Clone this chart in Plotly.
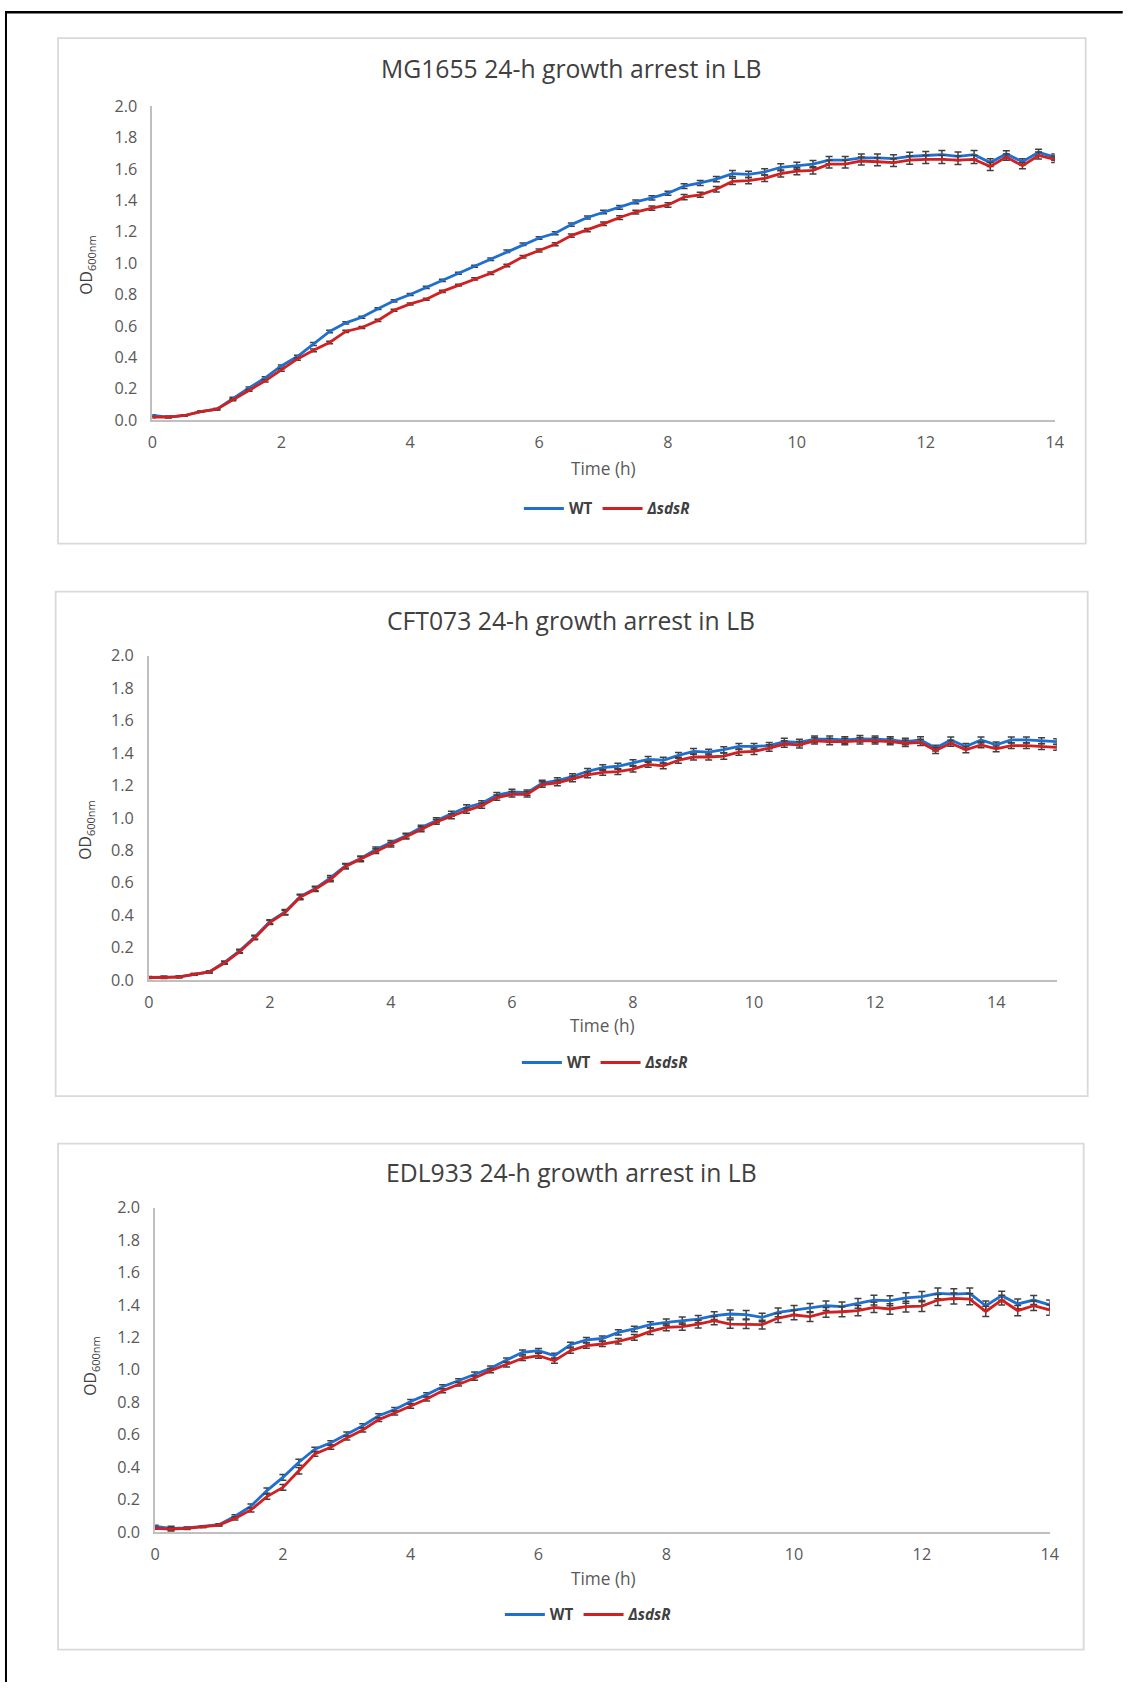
import plotly.graph_objects as go

# ---------------- data ----------------
TIME_14H = [0, 0.25, 0.5, 0.75, 1, 1.25, 1.5, 1.75, 2, 2.25, 2.5, 2.75, 3,
            3.25, 3.5, 3.75, 4, 4.25, 4.5, 4.75, 5, 5.25, 5.5, 5.75, 6,
            6.25, 6.5, 6.75, 7, 7.25, 7.5, 7.75, 8, 8.25, 8.5, 8.75, 9,
            9.25, 9.5, 9.75, 10, 10.25, 10.5, 10.75, 11, 11.25, 11.5, 11.75, 12,
            12.25, 12.5, 12.75, 13, 13.25, 13.5, 13.75, 14]
TIME_15H = TIME_14H + [14.25, 14.5, 14.75, 15]

MG_WT = [0.03, 0.02, 0.03, 0.055, 0.07,
         0.14, 0.205, 0.27, 0.345, 0.405, 0.485, 0.565, 0.62,
         0.655, 0.71, 0.76, 0.80, 0.845, 0.89, 0.935, 0.98, 1.025, 1.075, 1.12, 1.16,
         1.19, 1.245, 1.29, 1.325, 1.355, 1.39, 1.415, 1.445,
         1.49, 1.51, 1.535, 1.57,
         1.565, 1.58, 1.61, 1.62, 1.63, 1.655, 1.655, 1.67, 1.67, 1.665, 1.68, 1.685,
         1.69, 1.68, 1.69, 1.64, 1.695, 1.645, 1.705, 1.675]
MG_WT_ERR = [0.005, 0.005, 0.004, 0.004, 0.005,
             0.006, 0.006, 0.007, 0.007, 0.008, 0.010, 0.008, 0.007,
             0.006, 0.006, 0.007, 0.006, 0.007, 0.007, 0.006, 0.007, 0.008, 0.008, 0.008, 0.008,
             0.009, 0.010, 0.010, 0.011, 0.012, 0.012, 0.013, 0.013,
             0.015, 0.016, 0.017, 0.020,
             0.020, 0.020, 0.022, 0.022, 0.023, 0.023, 0.024, 0.025, 0.025, 0.025, 0.026, 0.026,
             0.026, 0.027, 0.027, 0.025, 0.020, 0.020, 0.020, 0.020]
MG_DS = [0.02, 0.02, 0.03, 0.055, 0.07,
         0.13, 0.19, 0.25, 0.32, 0.39, 0.445, 0.495, 0.565,
         0.59, 0.635, 0.70, 0.74, 0.77, 0.82, 0.86, 0.90, 0.935, 0.985, 1.04, 1.08,
         1.12, 1.175, 1.21, 1.25, 1.29, 1.325, 1.35, 1.37,
         1.42, 1.435, 1.47, 1.52,
         1.525, 1.54, 1.57, 1.585, 1.59, 1.63, 1.63, 1.65, 1.645, 1.64, 1.655, 1.66,
         1.66, 1.655, 1.66, 1.615, 1.675, 1.62, 1.685, 1.66]
MG_DS_ERR = [0.004, 0.005, 0.004, 0.004, 0.005,
             0.006, 0.006, 0.007, 0.008, 0.008, 0.009, 0.008, 0.007,
             0.006, 0.007, 0.007, 0.006, 0.007, 0.007, 0.006, 0.007, 0.008, 0.008, 0.008, 0.009,
             0.010, 0.010, 0.011, 0.011, 0.012, 0.012, 0.013, 0.014,
             0.016, 0.016, 0.018, 0.020,
             0.020, 0.021, 0.022, 0.022, 0.023, 0.024, 0.024, 0.025, 0.025, 0.025, 0.026, 0.026,
             0.026, 0.027, 0.026, 0.025, 0.020, 0.020, 0.022, 0.020]

CFT_WT = [0.017, 0.02, 0.02, 0.035, 0.05,
          0.11, 0.18, 0.265, 0.36, 0.42, 0.515, 0.565, 0.63,
          0.705, 0.75, 0.805, 0.845, 0.89, 0.94, 0.985, 1.025, 1.065, 1.09, 1.14, 1.16,
          1.155, 1.215, 1.23, 1.255, 1.287, 1.31, 1.318, 1.34,
          1.36, 1.355, 1.385, 1.41,
          1.405, 1.42, 1.44, 1.44, 1.445, 1.47, 1.465, 1.485, 1.485, 1.48, 1.487, 1.485,
          1.48, 1.47, 1.48, 1.43, 1.48, 1.44, 1.48, 1.45,
          1.48, 1.48, 1.475, 1.47]
CFT_WT_ERR = [0.005, 0.005, 0.005, 0.005, 0.006,
              0.008, 0.010, 0.012, 0.012, 0.015, 0.014, 0.014, 0.014,
              0.014, 0.015, 0.015, 0.015, 0.015, 0.015, 0.015, 0.015, 0.015, 0.016, 0.016, 0.016,
              0.016, 0.016, 0.017, 0.017, 0.017, 0.018, 0.018, 0.018,
              0.018, 0.018, 0.018, 0.018,
              0.018, 0.018, 0.019, 0.019, 0.019, 0.020, 0.020, 0.020, 0.020, 0.020, 0.020, 0.020,
              0.020, 0.020, 0.020, 0.018, 0.018, 0.018, 0.018, 0.018,
              0.018, 0.018, 0.018, 0.018]
CFT_DS = [0.015, 0.015, 0.02, 0.035, 0.05,
          0.105, 0.175, 0.26, 0.355, 0.415, 0.51, 0.56, 0.62,
          0.70, 0.745, 0.795, 0.835, 0.885, 0.93, 0.975, 1.01, 1.045, 1.075, 1.125, 1.145,
          1.145, 1.205, 1.215, 1.24, 1.265, 1.28, 1.285, 1.30,
          1.33, 1.32, 1.355, 1.375,
          1.375, 1.38, 1.405, 1.41, 1.43, 1.455, 1.45, 1.475, 1.47, 1.47, 1.475, 1.475,
          1.47, 1.46, 1.465, 1.415, 1.46, 1.42, 1.45, 1.425,
          1.445, 1.445, 1.44, 1.435]
CFT_DS_ERR = [0.005, 0.005, 0.005, 0.005, 0.006,
              0.008, 0.010, 0.012, 0.013, 0.014, 0.014, 0.014, 0.014,
              0.015, 0.015, 0.015, 0.015, 0.015, 0.015, 0.015, 0.016, 0.016, 0.016, 0.016, 0.017,
              0.017, 0.017, 0.017, 0.018, 0.018, 0.018, 0.018, 0.018,
              0.018, 0.018, 0.019, 0.019,
              0.019, 0.019, 0.019, 0.020, 0.020, 0.020, 0.020, 0.020, 0.020, 0.020, 0.020, 0.020,
              0.020, 0.020, 0.019, 0.018, 0.018, 0.018, 0.018, 0.018,
              0.018, 0.018, 0.018, 0.018]

EDL_WT = [0.035, 0.023, 0.025, 0.033, 0.045,
          0.097, 0.16, 0.255, 0.337, 0.43, 0.51, 0.55, 0.605,
          0.655, 0.717, 0.755, 0.805, 0.847, 0.896, 0.933, 0.974, 1.01, 1.06, 1.108, 1.118,
          1.087, 1.155, 1.184, 1.193, 1.231, 1.252, 1.278, 1.293,
          1.303, 1.313, 1.334, 1.344,
          1.34, 1.323, 1.354, 1.369, 1.381, 1.395, 1.389, 1.41, 1.43, 1.426, 1.443, 1.451,
          1.471, 1.467, 1.471, 1.395, 1.457, 1.406, 1.43, 1.40]
EDL_WT_ERR = [0.006, 0.012, 0.006, 0.005, 0.006,
              0.010, 0.012, 0.016, 0.018, 0.018, 0.012, 0.012, 0.012,
              0.012, 0.012, 0.012, 0.012, 0.012, 0.012, 0.012, 0.012, 0.013, 0.013, 0.014, 0.014,
              0.015, 0.015, 0.015, 0.015, 0.016, 0.017, 0.018, 0.020,
              0.022, 0.022, 0.024, 0.025,
              0.026, 0.026, 0.027, 0.028, 0.028, 0.029, 0.029, 0.030, 0.030, 0.031, 0.032, 0.032,
              0.033, 0.033, 0.034, 0.030, 0.028, 0.030, 0.028, 0.030]
EDL_DS = [0.023, 0.018, 0.022, 0.033, 0.043,
          0.084, 0.136, 0.218, 0.275, 0.378, 0.481, 0.522, 0.58,
          0.629, 0.693, 0.734, 0.775, 0.82, 0.871, 0.912, 0.949, 0.995, 1.032, 1.071, 1.087,
          1.056, 1.118, 1.149, 1.159, 1.176, 1.20, 1.237, 1.262,
          1.266, 1.282, 1.303, 1.282,
          1.282, 1.278, 1.319, 1.338, 1.328, 1.354, 1.358, 1.365, 1.385, 1.375, 1.389, 1.393,
          1.43, 1.44, 1.436, 1.36, 1.43, 1.365, 1.395, 1.369]
EDL_DS_ERR = [0.006, 0.012, 0.006, 0.005, 0.006,
              0.010, 0.012, 0.016, 0.018, 0.020, 0.014, 0.012, 0.012,
              0.012, 0.012, 0.012, 0.012, 0.012, 0.012, 0.012, 0.013, 0.013, 0.014, 0.014, 0.015,
              0.016, 0.016, 0.016, 0.016, 0.017, 0.018, 0.019, 0.021,
              0.022, 0.024, 0.025, 0.026,
              0.027, 0.027, 0.028, 0.029, 0.030, 0.030, 0.031, 0.031, 0.032, 0.033, 0.033, 0.034,
              0.034, 0.034, 0.035, 0.032, 0.030, 0.032, 0.030, 0.032]

TITLES = ["MG1655 24-h growth arrest in LB",
          "CFT073 24-h growth arrest in LB",
          "EDL933 24-h growth arrest in LB"]
SERIES_NAMES = ["<b>WT</b>", "<b><i>ΔsdsR</i></b>"]
Y_TICKS = [0.0, 0.2, 0.4, 0.6, 0.8, 1.0, 1.2, 1.4, 1.6, 1.8, 2.0]

# ---------------- layout geometry ----------------
W, H = 1132, 1693
FONT = "Open Sans, Noto Sans, sans-serif"
BLUE = "#1F6FD0"
RED = "#D21F1F"
ERR = "#404040"
TXT = "#595959"

# The photographed page places the figure with a small offset and a slight
# shrink; target positions (measured on the reference) are mapped back here.
SHOT_X0, SHOT_Y0, SHOT_K = 5.0, 10.4, 0.987

def px(x):
    return min(max((x - SHOT_X0) / SHOT_K, 0), W) / W

def py(y):
    return 1 - min(max((y - SHOT_Y0) / SHOT_K, 0), H) / H

def fs(size):
    return size / SHOT_K

panels = [
    dict(time=TIME_14H, wt=MG_WT, wte=MG_WT_ERR, ds=MG_DS, dse=MG_DS_ERR, xmax=14,
         xl=152.3, xr=1054, yb=419.6, yt=105.4, box=(58, 37.5, 1085, 543),
         title_y=68, xt_y=468, xt_x=603, yt_x=87, yt_y=265, leg=(607, 508)),
    dict(time=TIME_15H, wt=CFT_WT, wte=CFT_WT_ERR, ds=CFT_DS, dse=CFT_DS_ERR, xmax=15,
         xl=148.7, xr=1056, yb=979.5, yt=655, box=(55.6, 591, 1087, 1095.5),
         title_y=620, xt_y=1025, xt_x=602, yt_x=86, yt_y=830, leg=(605, 1062)),
    dict(time=TIME_14H, wt=EDL_WT, wte=EDL_WT_ERR, ds=EDL_DS, dse=EDL_DS_ERR, xmax=14,
         xl=155, xr=1049, yb=1531.4, yt=1207, box=(58, 1143, 1083, 1649),
         title_y=1172, xt_y=1578, xt_x=603, yt_x=91, yt_y=1366, leg=(588, 1614)),
]

fig = go.Figure()
shapes = []
annotations = []
layout_axes = {}

for i, p in enumerate(panels):
    n = i + 1
    xa = "x" if n == 1 else f"x{n}"
    ya = "y" if n == 1 else f"y{n}"
    leg = "legend" if n == 1 else f"legend{n}"
    for name, vals, errs, col in [(SERIES_NAMES[0], p["wt"], p["wte"], BLUE),
                                  (SERIES_NAMES[1], p["ds"], p["dse"], RED)]:
        fig.add_trace(go.Scatter(
            x=p["time"], y=vals, mode="lines", name=name,
            line=dict(color=col, width=2.8),
            error_y=dict(type="data", array=errs, visible=True, color=ERR,
                         thickness=1.5, width=3.5),
            xaxis=xa, yaxis=ya, legend=leg, showlegend=True,
        ))
    xticks = list(range(0, p["xmax"] + 1, 2))
    layout_axes[f"xaxis{'' if n == 1 else n}"] = dict(
        domain=[px(p["xl"]), px(p["xr"])], range=[0, p["xmax"]], anchor=ya,
        tickvals=xticks, showgrid=False, zeroline=False,
        showline=True, linecolor="#BFBFBF", linewidth=1.5,
        ticks="outside", ticklen=7, tickcolor="rgba(0,0,0,0)",
        tickfont=dict(family=FONT, size=fs(16), color=TXT), fixedrange=True,
    )
    layout_axes[f"yaxis{'' if n == 1 else n}"] = dict(
        domain=[py(p["yb"]), py(p["yt"])], range=[0, 2], anchor=xa,
        tickvals=Y_TICKS, tickformat=".1f", showgrid=False, zeroline=False,
        showline=True, linecolor="#BFBFBF", linewidth=1.5,
        ticks="outside", ticklen=10, tickcolor="rgba(0,0,0,0)",
        tickfont=dict(family=FONT, size=fs(16), color=TXT), fixedrange=True,
    )
    layout_axes[leg] = dict(
        orientation="h", x=px(p["leg"][0]), y=py(p["leg"][1]),
        xanchor="center", yanchor="middle", bgcolor="rgba(0,0,0,0)",
        font=dict(family=FONT, size=fs(15), color="#404040"), itemwidth=40,
        tracegroupgap=0,
    )
    bx0, by0, bx1, by1 = p["box"]
    shapes.append(dict(type="rect", xref="paper", yref="paper",
                       x0=px(bx0), x1=px(bx1), y0=py(by1), y1=py(by0),
                       line=dict(color="#D9D9D9", width=1.8), fillcolor="white",
                       layer="below"))
    annotations.append(dict(text=TITLES[i], xref="paper", yref="paper",
                            x=px(571), y=py(p["title_y"]), xanchor="center",
                            yanchor="middle", showarrow=False,
                            font=dict(family=FONT, size=fs(24.4), color="#404040")))
    annotations.append(dict(text="Time (h)", xref="paper", yref="paper",
                            x=px(p["xt_x"]), y=py(p["xt_y"]), xanchor="center",
                            yanchor="middle", showarrow=False,
                            font=dict(family=FONT, size=fs(17), color=TXT)))
    annotations.append(dict(text="OD<sub>600nm</sub>", xref="paper", yref="paper",
                            x=px(p["yt_x"]), y=py(p["yt_y"]), xanchor="center",
                            yanchor="middle", showarrow=False, textangle=-90,
                            font=dict(family=FONT, size=fs(15.5), color="#404040")))

# outer black frame (top and left edges), as close to the corner as reachable
shapes.append(dict(type="line", xref="paper", yref="paper",
                   x0=0, x1=px(1122), y0=1 - 1.2 / H, y1=1 - 1.2 / H,
                   line=dict(color="black", width=2.4)))
shapes.append(dict(type="line", xref="paper", yref="paper",
                   x0=1.0 / W, x1=1.0 / W, y0=0, y1=1,
                   line=dict(color="black", width=2)))

fig.update_layout(
    width=W, height=H, margin=dict(l=0, r=0, t=0, b=0),
    paper_bgcolor="white", plot_bgcolor="rgba(0,0,0,0)",
    shapes=shapes, annotations=annotations, showlegend=True,
    **layout_axes,
)

# pin the figure to the window origin (no default page margin, no scrolling)
PAGE_JS = (
    "var de=document.documentElement, b=document.body;"
    "de.style.margin='0'; de.style.padding='0'; de.style.overflow='hidden';"
    "b.style.margin='0'; b.style.padding='0'; b.style.overflow='hidden';"
    "b.style.width='1132px'; b.style.height='1693px';"
    "var g=document.getElementById('{plot_id}');"
    "g.style.position='absolute'; g.style.left='0px'; g.style.top='0px';"
)
fig.write_html("out.html", config={"displayModeBar": False}, post_script=PAGE_JS)
